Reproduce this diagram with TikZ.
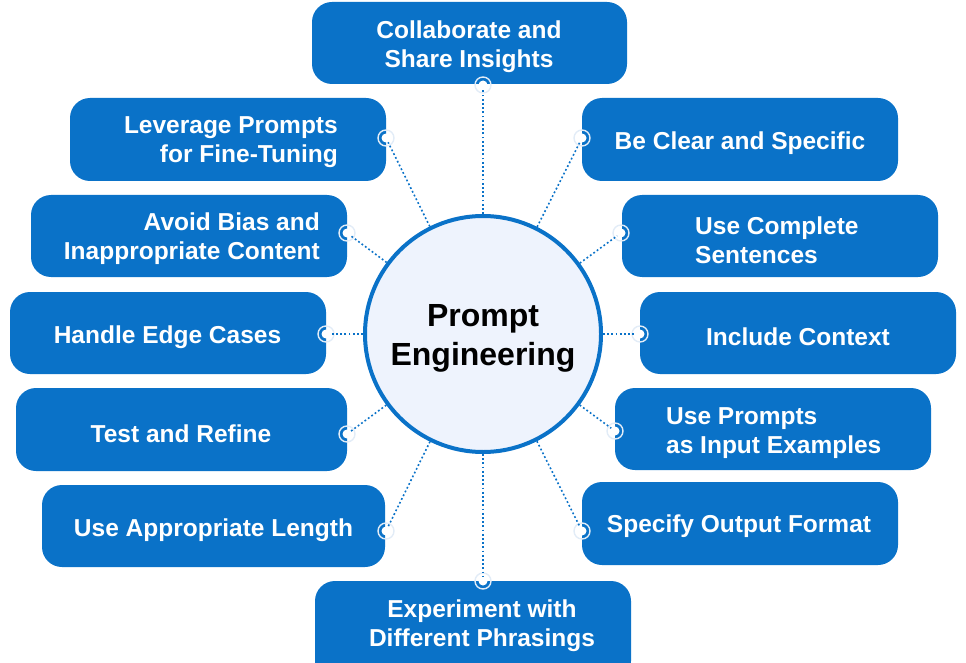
\documentclass[tikz,border=0pt]{standalone}
\usepackage{fontspec}
\setmainfont{Liberation Sans}
\definecolor{boxblue}{HTML}{0A72C8}
\definecolor{circfill}{HTML}{EEF3FD}
\definecolor{halo}{HTML}{E2ECF7}
\tikzset{
  box/.style={draw=none, fill=boxblue, rounded corners=20pt, inner sep=0pt},
  txt/.style={text=white, inner sep=0pt, font=\bfseries\fontsize{24.5}{29}\selectfont},
  conn/.style={draw=boxblue, line width=1.6pt, dash pattern=on 1.8pt off 2.4pt},
  dotnode/.style={circle, fill=white, inner sep=0pt, minimum size=9pt},
  halonode/.style={circle, draw=halo, line width=1.4pt, fill=none, inner sep=0pt, minimum size=16pt},
}
\begin{document}
\begin{tikzpicture}[x=1pt,y=-1pt]
\useasboundingbox (0,0) rectangle (966,663);
\clip (0,0) rectangle (966,663);
% boxes
\node[box, minimum width=315pt, minimum height=82pt] (b1) at (469.5,43) {};
\node[box, minimum width=316pt, minimum height=83pt] (b2) at (228,139.5) {};
\node[box, minimum width=316pt, minimum height=83pt] (b3) at (740,139.5) {};
\node[box, minimum width=316pt, minimum height=82pt] (b4) at (189,236) {};
\node[box, minimum width=316pt, minimum height=82pt] (b5) at (780,236) {};
\node[box, minimum width=316pt, minimum height=82pt] (b6) at (168,333) {};
\node[box, minimum width=316pt, minimum height=82pt] (b7) at (798,333) {};
\node[box, minimum width=331pt, minimum height=83pt] (b8) at (181.5,429.5) {};
\node[box, minimum width=316pt, minimum height=82pt] (b9) at (773,429) {};
\node[box, minimum width=343pt, minimum height=82pt] (b10) at (213.5,526) {};
\node[box, minimum width=316pt, minimum height=83pt] (b11) at (740,523.5) {};
\node[box, minimum width=316pt, minimum height=100pt] (b12) at (473,631) {};
% texts
\node[txt, align=center] (t1) at (469,47) {Collaborate and\\Share Insights};
\node[txt, align=right, anchor=east] (t2) at (338,142) {Leverage Prompts\\for Fine-Tuning};
\node[txt] (t3) at (740,143) {Be Clear and Specific};
\node[txt, align=right, anchor=east] (t4) at (320,239) {Avoid Bias and\\Inappropriate Content};
\node[txt, align=left, anchor=west] (t5) at (695,240) {Use Complete\\Sentences};
\node[txt] (t6) at (167.5,337) {Handle Edge Cases};
\node[txt] (t7) at (798,337) {Include Context};
\node[txt] (t8) at (181,434) {Test and Refine};
\node[txt, align=left, anchor=west] (t9) at (666,433) {Use Prompts\\as Input Examples};
\node[txt] (t10) at (213.5,530) {Use Appropriate Length};
\node[txt] (t11) at (739,526) {Specify Output Format};
\node[txt, align=center] (t12) at (482,626) {Experiment with\\Different Phrasings};
% central circle
\node[circle, draw=boxblue, line width=4pt, fill=circfill, minimum size=236pt, inner sep=0pt,
      align=center, font=\bfseries\fontsize{32}{39}\selectfont] (pe) at (483,334) {};
\node[inner sep=0pt, align=center, font=\bfseries\fontsize{32}{39}\selectfont] (pet) at (483,338) {Prompt\\Engineering};
% dots
\foreach \n/\x/\y in {1/483/85, 2/386/138, 3/582/138, 4/347/233, 5/621/233, 6/326/334,
                      7/640/334, 8/347/434, 9/615/431, 10/386/531, 11/582/531, 12/483/581} {
  \coordinate (d\n) at (\x,\y);
  \node[halonode] (h\n) at (d\n) {};
  \node[dotnode] (k\n) at (d\n) {};
}
\foreach \n in {1,...,12} {
  \draw[conn] (pe) -- (k\n);
}
\end{tikzpicture}
\end{document}
